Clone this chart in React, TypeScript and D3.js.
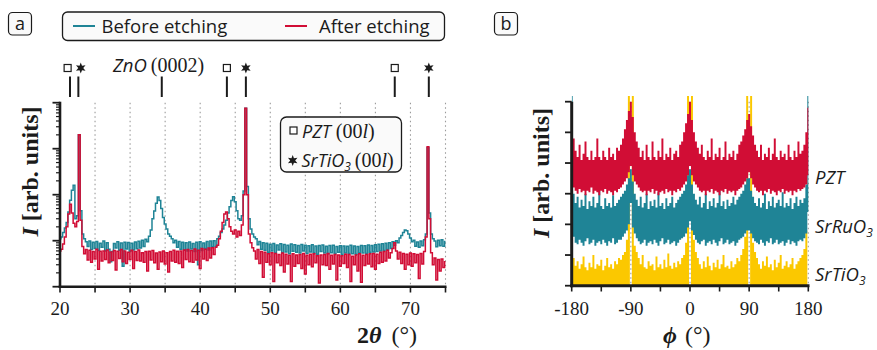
import React from "react";
import * as d3 from "d3";

// ---- panel (a): 2θ scans, one value every 0.25° from 20° to 75° ----
const twoTheta = d3.range(221).map((i) => 20 + i * 0.25);

// before etching (teal)
const beforeEtching = [
  11, 12, 15, 19, 25, 42, 76, 125, 160, 30, 35, 2000, 45, 14, 11, 9.5,
  7.5, 9.8, 6.4, 9.2, 6.8, 9.6, 6.1, 8.8, 7.2, 9.9, 6.0, 9.0, 6.5, 3.5, 5.8, 8.7,
  6.9, 9.5, 6.2, 8.9, 2.8, 9.3, 6.6, 9.1, 5.9, 8.8, 6.3, 9.4, 6.7, 9.7, 6.9, 10.2,
  7.5, 10.8, 9.5, 12.5, 17, 30, 44, 65, 89, 75, 50, 32, 23, 18, 14, 12.5,
  11, 9.0, 10.2, 7.2, 9.6, 6.5, 9.3, 6.2, 9.0, 6.0, 9.4, 6.6, 8.7, 5.8, 9.2, 3.0,
  9.5, 6.1, 8.9, 6.8, 9.6, 6.3, 9.8, 7.4, 10, 7.6, 11, 12.5, 15, 18, 22, 28,
  40, 55, 75, 90, 70, 45, 30, 28, 35, 120, 7600, 150, 30, 18, 14, 12,
  11, 8.2, 9.6, 6.5, 9.0, 6.2, 8.8, 5.6, 8.4, 6.0, 8.7, 5.4, 8.1, 6.3, 8.6, 5.5,
  8.3, 5.7, 8.0, 5.2, 8.5, 5.9, 8.2, 5.6, 7.9, 5.4, 8.3, 6.0, 8.0, 5.3, 7.8, 5.7,
  8.2, 5.5, 7.7, 5.1, 7.9, 5.8, 8.1, 5.4, 7.6, 5.2, 7.9, 5.5, 8.0, 5.3, 7.5, 5.6,
  7.8, 5.0, 7.7, 5.4, 7.6, 5.3, 8.0, 5.2, 7.7, 5.1, 7.5, 5.5, 7.9, 5.4, 7.8, 5.3,
  8.1, 5.6, 7.9, 5.7, 8.2, 5.8, 8.4, 6.0, 8.6, 6.1, 8.8, 6.4, 9.0, 6.8, 9.5, 8.0,
  10, 9.0, 11.5, 13, 15, 17, 16.5, 14, 11.5, 9.5, 10.2, 7.6, 9.4, 7.2, 9.8, 7.8,
  10.5, 14, 1050, 40, 14, 11, 9.8, 7.4, 10.2, 7.8, 10.5, 7.6, 9.6,
];

// after etching (red)
const afterEtching = [
  6, 6.5, 8.5, 12, 20, 38, 62, 40, 24, 20, 26, 2000, 28, 7.5, 5.2, 6.4,
  3.8, 6.2, 3.4, 5.8, 4.0, 6.5, 2.4, 5.9, 3.6, 6.0, 3.9, 6.3, 3.3, 5.7, 3.7, 6.1,
  2.3, 5.9, 4.1, 6.4, 3.5, 6.0, 3.2, 5.6, 3.9, 6.2, 2.5, 5.8, 3.7, 6.3, 3.6, 5.5,
  3.4, 5.8, 2.2, 5.9, 3.8, 6.1, 3.3, 5.4, 2.4, 5.7, 3.5, 6.0, 3.1, 5.5, 2.1, 5.8,
  3.6, 6.2, 3.4, 5.9, 3.2, 6.0, 2.6, 6.3, 3.9, 6.4, 3.5, 6.1, 3.4, 6.6, 3.8, 6.2,
  2.5, 6.8, 4.0, 6.5, 3.7, 6.9, 4.2, 7.0, 5.0, 7.2, 8.0, 11, 16, 25, 38, 42,
  30, 20, 16, 14, 17, 12, 16, 13, 22, 100, 7600, 100, 14, 9, 7, 6,
  4.0, 6.4, 3.2, 5.8, 1.6, 5.6, 3.4, 5.2, 3.0, 5.5, 1.3, 5.3, 3.3, 5.0, 2.9, 5.4,
  2.1, 5.1, 3.1, 4.8, 1.3, 5.2, 2.8, 4.9, 3.2, 5.0, 2.5, 5.3, 1.9, 4.8, 3.0, 5.1,
  2.7, 5.2, 3.3, 4.7, 1.2, 4.9, 3.0, 5.0, 2.9, 5.3, 2.4, 4.8, 3.1, 5.0, 1.4, 4.9,
  2.8, 4.7, 3.2, 5.1, 2.6, 5.0, 1.3, 4.6, 3.0, 4.9, 2.2, 5.2, 1.25, 4.8, 2.9, 5.0,
  3.1, 5.2, 2.7, 5.3, 2.4, 5.1, 3.2, 5.6, 3.4, 5.8, 3.6, 6.2, 4.2, 5.5, 6.8, 9,
  6.0, 4.0, 5.6, 3.2, 5.3, 2.4, 5.1, 3.0, 5.4, 2.8, 5.2, 3.3, 5.0, 1.5, 5.3, 3.1,
  5.8, 12, 1100, 30, 5.5, 3.0, 4.2, 1.4, 3.9, 2.2, 4.0, 2.6, 3.5,
];

const gridAnglesA = [25, 30, 35, 40, 45, 50, 55, 60, 65, 70, 75];
const tickAnglesA = [20, 25, 30, 35, 40, 45, 50, 55, 60, 65, 70, 75];
const labelAnglesA = [20, 30, 40, 50, 60, 70];

// reflection markers above panel (a)
const reflectionAngles = [21.43, 22.62, 34.52, 43.81, 46.52, 67.76, 72.62];
const reflectionKind = ["PZT", "STO", "ZnO", "PZT", "STO", "PZT", "STO"];

// ---- panel (b): φ scans, noise band (low / high) every 3° ----
const phi = d3.range(-180, 181, 3);

const pztHigh = [
  57, 48, 44, 42, 46, 41, 43, 47, 42, 41, 44, 41, 42, 48, 42, 41, 44, 42, 41, 45,
  42, 43, 41, 45, 44, 46, 48, 51, 54, 57, 60, 55, 50, 47, 45, 42, 44, 41, 46, 42,
  41, 47, 42, 41, 44, 42, 48, 41, 43, 42, 45, 41, 43, 44, 42, 46, 47, 50, 53, 56,
  60, 54, 50, 47, 45, 43, 46, 42, 41, 44, 42, 48, 41, 43, 42, 45, 41, 42, 47, 41,
  43, 42, 44, 41, 43, 46, 47, 49, 51, 54, 56, 52, 49, 46, 44, 42, 46, 41, 43, 42,
  45, 41, 43, 48, 42, 41, 44, 42, 43, 41, 46, 42, 41, 44, 42, 47, 43, 44, 46, 50,
  58,
];
const pztLow = [
  35, 32, 31, 30, 31.5, 30.5, 31, 29.5, 31, 30.5, 32, 30, 31, 30.5, 29.5, 31, 30.5, 31.5, 30, 31,
  30.5, 29.5, 31, 30.5, 31.5, 32, 33, 34, 35, 37, 39, 36, 34, 33, 32, 31, 30.5, 31, 29.5, 31,
  30.5, 31.5, 30, 31, 29.5, 30.5, 31, 30, 31.5, 30.5, 31, 29.5, 31, 30.5, 31.5, 31, 32, 33, 34, 36,
  39, 36, 34, 33, 32, 31, 30.5, 31, 29.5, 31, 30.5, 31.5, 30, 31, 30.5, 29.5, 31, 30.5, 31.5, 30,
  31, 30.5, 31, 29.5, 31, 31.5, 32, 33, 34, 35, 37, 35, 33, 32, 31, 30.5, 31, 29.5, 31, 30.5,
  31.5, 30, 31, 30.5, 29.5, 31, 30.5, 31.5, 30, 31, 30.5, 31, 29.5, 31, 30.5, 31.5, 31, 31.5, 32, 33,
  36,
];
const sroHigh = [
  65, 30, 27, 29, 25.5, 28, 26, 30, 25, 27.5, 26, 29, 25.5, 27, 31, 26, 25, 28.5, 26, 27,
  25.5, 29.5, 26, 27, 28, 29, 30, 31, 33, 35, 38, 34, 30, 28, 26, 29, 25.5, 27, 30, 25,
  27.5, 26, 28, 25.5, 30.5, 26, 27, 25, 28.5, 26, 27, 29, 25.5, 27, 28, 29, 30, 31, 33, 36,
  38, 33, 30, 28, 26.5, 29, 25.5, 27, 30, 25, 27.5, 26, 28.5, 25.5, 27, 31, 26, 27.5, 25, 28,
  26, 27, 29, 26.5, 28, 29, 30, 31, 33, 35, 35, 31, 29, 27, 26, 28.5, 25.5, 27, 30, 25,
  27.5, 26, 29, 25.5, 27, 28, 26, 30.5, 25.5, 27, 26, 28.5, 25, 27, 29, 26, 28, 27, 28.5, 33,
  65,
];
const sroLow = [
  22, 16, 14, 13.5, 15, 14, 13, 14.5, 15.5, 13.5, 14, 15, 13, 14, 14.5, 13.5, 15, 14, 13, 14.5,
  14, 15.5, 13.5, 14, 15, 15, 16, 17, 18, 20, 27, 19, 17, 15.5, 14.5, 13.5, 14, 15, 13, 14,
  14.5, 13.5, 15, 14, 13, 14.5, 15.5, 13.5, 14, 15, 13.5, 14, 14.5, 13, 14, 15, 15.5, 16, 17, 19,
  21, 18, 16.5, 15, 14, 13.5, 14.5, 15, 13, 14, 14.5, 13.5, 15, 14, 13, 14.5, 15.5, 13.5, 14, 15,
  13.5, 14, 14.5, 13, 14, 15, 15.5, 16, 17, 18, 18, 17, 15.5, 14.5, 14, 13.5, 15, 14, 13, 14.5,
  14, 15.5, 13.5, 14, 15, 13.5, 14, 14.5, 13, 14, 15, 13.5, 14.5, 14, 13, 14.5, 15, 14.5, 15.5, 17,
  24,
];
const stoHigh = [
  14, 9, 6.5, 8, 5.5, 7, 9.5, 6, 5, 7.5, 6, 10, 5.5, 7, 6.5, 8.5, 5, 6.5, 9, 6,
  7, 5.5, 8, 7, 9, 8.5, 10, 11, 15, 65, 80, 65, 13, 11, 9, 7, 10, 6, 5.5, 8,
  6.5, 7, 5, 9.5, 6, 7, 5.5, 8.5, 6, 10.5, 6.5, 5.5, 7.5, 6, 8, 7, 9, 10, 14, 65,
  80, 65, 15, 11, 9, 7, 5.5, 8, 6, 9.5, 6.5, 5, 7.5, 6, 8.5, 5.5, 7, 10, 6, 6.5,
  5.5, 8, 6, 7, 9, 8, 10, 12, 16, 65, 80, 65, 14, 11, 9, 7, 5.5, 8, 6.5, 9.5,
  6, 7, 5, 8.5, 6, 7.5, 10, 5.5, 6.5, 8, 6, 7, 9, 5.5, 7, 8, 9, 10, 12, 18,
  80,
];
const stoLow = [
  0, 0, 0, 0, 0, 0, 0, 0, 0, 0, 0, 0, 0, 0, 0, 0, 0, 0, 0, 0,
  0, 0, 0, 0, 0, 0, 0, 0, 0, 0, 70, 0, 0, 0, 0, 0, 0, 0, 0, 0,
  0, 0, 0, 0, 0, 0, 0, 0, 0, 0, 0, 0, 0, 0, 0, 0, 0, 0, 0, 0,
  70, 0, 0, 0, 0, 0, 0, 0, 0, 0, 0, 0, 0, 0, 0, 0, 0, 0, 0, 0,
  0, 0, 0, 0, 0, 0, 0, 0, 0, 0, 70, 0, 0, 0, 0, 0, 0, 0, 0, 0,
  0, 0, 0, 0, 0, 0, 0, 0, 0, 0, 0, 0, 0, 0, 0, 0, 0, 0, 0, 0,
  70,
];

const phiTicks = [-180, -135, -90, -45, 0, 45, 90, 135, 180];
const phiLabels = [-180, -90, 0, 90, 180];
const phiGrid = [-90, 0, 90, 180];
const intensityTicksB = [0, 10, 20, 30, 40, 50, 60];

const TEAL = "#1f8496";
const RED = "#d10d35";
const YELLOW = "#fbc800";
const INK = "#1b1b1b";
const SANS = "'Open Sans', 'Noto Sans', sans-serif";
const SERIF = "'Liberation Serif', 'DejaVu Serif', serif";

function starPath(r: number) {
  const pts = d3.range(12).map((k) => {
    const a = (k * Math.PI) / 6 - Math.PI / 2;
    const rr = k % 2 === 0 ? r : r * 0.45;
    return [rr * Math.cos(a), rr * Math.sin(a)];
  });
  return "M" + pts.map((p) => p.join(",")).join("L") + "Z";
}

function Marker({ kind, x, y }: { kind: string; x: number; y: number }) {
  if (kind === "PZT")
    return <rect x={x - 3.5} y={y - 3.5} width={7} height={7} fill="#fff" stroke={INK} strokeWidth={1.2} />;
  if (kind === "STO") return <path d={starPath(5.5)} transform={`translate(${x},${y})`} fill={INK} />;
  return null;
}

export default function App() {
  // panel (a) scales
  const xA = d3.scaleLinear().domain([20, 75]).range([60, 445.5]);
  const yA = d3.scaleLog().domain([1, 1e4]).range([286.7, 102.7]);
  // step curve: the dense counting noise reads as a solid band
  const lineA = d3
    .line<number>()
    .x((_, i) => xA(twoTheta[i]))
    .y((d) => yA(Math.max(1, d)))
    .curve(d3.curveStep);

  const logTicks = yA.ticks();

  // panel (b) scales
  const xB = d3.scaleLinear().domain([-180, 180]).range([571.7, 808.3]);
  const yB = d3.scaleLinear().domain([0, 60]).range([285.7, 101.7]);
  const band = (lo: number[], hi: number[]) =>
    d3
      .area<number>()
      .x((_, i) => xB(phi[i]))
      .y0((_, i) => yB(lo[i]))
      .y1((_, i) => yB(hi[i]))
      .curve(d3.curveStep)(phi);

  // symbols of neighbouring reflections get pushed apart a little
  const markerX = reflectionAngles.map((a, i) => {
    let x = xA(a);
    const prev = reflectionAngles[i - 1];
    const next = reflectionAngles[i + 1];
    if (next !== undefined && next - a < 2) x -= 2.4;
    if (prev !== undefined && a - prev < 2) x += 2.4;
    return x;
  });

  return (
    <div style={{ position: "absolute", left: 0, top: 0 }}>
      <svg width={877} height={350} style={{ display: "block", background: "#fff" }}>
        <defs>
          <clipPath id="clipB">
            <rect x={xB(-180)} y={96} width={xB(180) - xB(-180) + 1} height={yB(0) - 96} />
          </clipPath>
        </defs>

        {/* panel labels */}
        <rect x={8.5} y={12.5} width={23} height={22.5} rx={4} fill="#fafafa" stroke={INK} strokeWidth={1.2} />
        <text x={20} y={29.5} textAnchor="middle" fontFamily={SANS} fontSize={18} fill={INK}>a</text>
        <rect x={494.5} y={12.5} width={23} height={22.5} rx={4} fill="#fafafa" stroke={INK} strokeWidth={1.2} />
        <text x={506} y={29.5} textAnchor="middle" fontFamily={SANS} fontSize={18} fill={INK}>b</text>

        {/* top legend */}
        <rect x={62.5} y={12} width={382} height={28.5} rx={5} fill="#fafafa" stroke={INK} strokeWidth={1.3} />
        <line x1={73} x2={95} y1={26} y2={26} stroke={TEAL} strokeWidth={2} />
        <text x={101.5} y={32.5} fontFamily={SANS} fontSize={18.5} fill={INK}>Before etching</text>
        <line x1={285} x2={307} y1={26} y2={26} stroke={RED} strokeWidth={2} />
        <text x={319} y={32.5} fontFamily={SANS} fontSize={18.5} fill={INK}>After etching</text>

        {/* ===== panel (a) ===== */}
        {gridAnglesA.map((a) => (
          <line key={a} x1={xA(a)} x2={xA(a)} y1={102.7} y2={286.7} stroke="#9a9a9a" strokeWidth={1.1} strokeDasharray="1.5 3" />
        ))}

        {/* reflection markers */}
        {reflectionAngles.map((a, i) => (
          <g key={i}>
            <line x1={xA(a)} x2={xA(a)} y1={76.5} y2={97} stroke={INK} strokeWidth={2} />
            <Marker kind={reflectionKind[i]} x={markerX[i]} y={68} />
          </g>
        ))}
        <text x={113} y={72} fontFamily={SANS} fontSize={18.5} fill={INK}>
          <tspan fontStyle="italic">ZnO</tspan>
          <tspan fontFamily={SERIF} fontSize={20} dx={4}>(0002)</tspan>
        </text>

        <path d={lineA(beforeEtching) ?? ""} fill="none" stroke={TEAL} strokeWidth={1.5} />
        <path d={lineA(afterEtching) ?? ""} fill="none" stroke={RED} strokeWidth={1.5} />

        {/* inner legend */}
        <rect x={280.5} y={117} width={121} height={55} rx={6} fill="#fafafa" stroke={INK} strokeWidth={1.3} />
        <Marker kind="PZT" x={293.5} y={130.5} />
        <text x={302} y={137.5} fontFamily={SANS} fontSize={18} fill={INK}>
          <tspan fontStyle="italic">PZT</tspan>
          <tspan fontFamily={SERIF} fontSize={20} dx={5}>(00</tspan>
          <tspan fontFamily={SERIF} fontSize={20} fontStyle="italic">l</tspan>
          <tspan fontFamily={SERIF} fontSize={20}>)</tspan>
        </text>
        <Marker kind="STO" x={292.7} y={160.5} />
        <text x={301.5} y={166.5} fontFamily={SANS} fontSize={18} fill={INK}>
          <tspan fontStyle="italic">SrTiO</tspan>
          <tspan fontStyle="italic" fontSize={12} dy={4}>3</tspan>
          <tspan fontFamily={SERIF} fontSize={20} dy={-4} dx={4}>(00</tspan>
          <tspan fontFamily={SERIF} fontSize={20} fontStyle="italic">l</tspan>
          <tspan fontFamily={SERIF} fontSize={20}>)</tspan>
        </text>

        {/* axes (a) */}
        {logTicks.map((t, i) => {
          const major = Math.abs(Math.log10(t) - Math.round(Math.log10(t))) < 1e-9;
          return (
            <line key={i} x1={60 - (major ? 7.5 : 4)} x2={60} y1={yA(t)} y2={yA(t)} stroke={INK} strokeWidth={major ? 1.8 : 1.2} />
          );
        })}
        {tickAnglesA.map((a) => (
          <line key={a} x1={xA(a)} x2={xA(a)} y1={286.7} y2={292.5} stroke={INK} strokeWidth={1.6} />
        ))}
        <line x1={60} x2={60} y1={101.7} y2={288} stroke={INK} strokeWidth={2.6} />
        <line x1={58.7} x2={446.5} y1={286.7} y2={286.7} stroke={INK} strokeWidth={2.6} />
        {labelAnglesA.map((a) => (
          <text key={a} x={xA(a)} y={315} textAnchor="middle" fontFamily={SERIF} fontSize={19} fill={INK}>{a}</text>
        ))}
        <text x={357} y={343} fontFamily={SERIF} fontSize={24} fill={INK}>
          <tspan fontWeight="bold">2</tspan>
          <tspan fontWeight="bold" fontStyle="italic">θ</tspan>
          <tspan dx={10}>(°)</tspan>
        </text>
        <text transform="translate(38,171.5) rotate(-90)" textAnchor="middle" fontFamily={SERIF} fontSize={24} fontWeight="bold" fill={INK}>
          <tspan fontStyle="italic">I</tspan>
          <tspan> [arb. units]</tspan>
        </text>

        {/* ===== panel (b) ===== */}
        {phiGrid.map((p) => (
          <line key={p} x1={xB(p)} x2={xB(p)} y1={101.7} y2={285.7} stroke="#9a9a9a" strokeWidth={1.1} strokeDasharray="1.5 3" />
        ))}
        <g clipPath="url(#clipB)">
          <path d={band(stoLow, stoHigh) ?? ""} fill={YELLOW} />
          <path d={band(sroLow, sroHigh) ?? ""} fill={TEAL} />
          <path d={band(pztLow, pztHigh) ?? ""} fill={RED} />
        </g>
        {intensityTicksB.map((t) => (
          <line key={t} x1={565} x2={571.7} y1={yB(t)} y2={yB(t)} stroke={INK} strokeWidth={1.8} />
        ))}
        {phiTicks.map((p) => (
          <line key={p} x1={xB(p)} x2={xB(p)} y1={285.7} y2={291.5} stroke={INK} strokeWidth={1.6} />
        ))}
        <line x1={571.7} x2={571.7} y1={101.7} y2={287.2} stroke={INK} strokeWidth={3} />
        <line x1={570.2} x2={809.5} y1={285.7} y2={285.7} stroke={INK} strokeWidth={3} />
        {phiLabels.map((p) => (
          <text key={p} x={xB(p)} y={315} textAnchor="middle" fontFamily={SERIF} fontSize={19} fill={INK}>{p}</text>
        ))}
        <text x={663} y={343} fontFamily={SERIF} fontSize={24} fill={INK}>
          <tspan fontWeight="bold" fontStyle="italic">ϕ</tspan>
          <tspan dx={8}>(°)</tspan>
        </text>
        <text transform="translate(549,173) rotate(-90)" textAnchor="middle" fontFamily={SERIF} fontSize={24} fontWeight="bold" fill={INK}>
          <tspan fontStyle="italic">I</tspan>
          <tspan> [arb. units]</tspan>
        </text>

        {/* series names */}
        <text x={815} y={184} fontFamily={SANS} fontSize={18.5} fontStyle="italic" fill={INK}>PZT</text>
        <text x={815} y={233} fontFamily={SANS} fontSize={18.5} fontStyle="italic" fill={INK}>
          SrRuO<tspan fontSize={12} dy={4}>3</tspan>
        </text>
        <text x={815} y={281} fontFamily={SANS} fontSize={18.5} fontStyle="italic" fill={INK}>
          SrTiO<tspan fontSize={12} dy={4}>3</tspan>
        </text>
      </svg>
    </div>
  );
}
